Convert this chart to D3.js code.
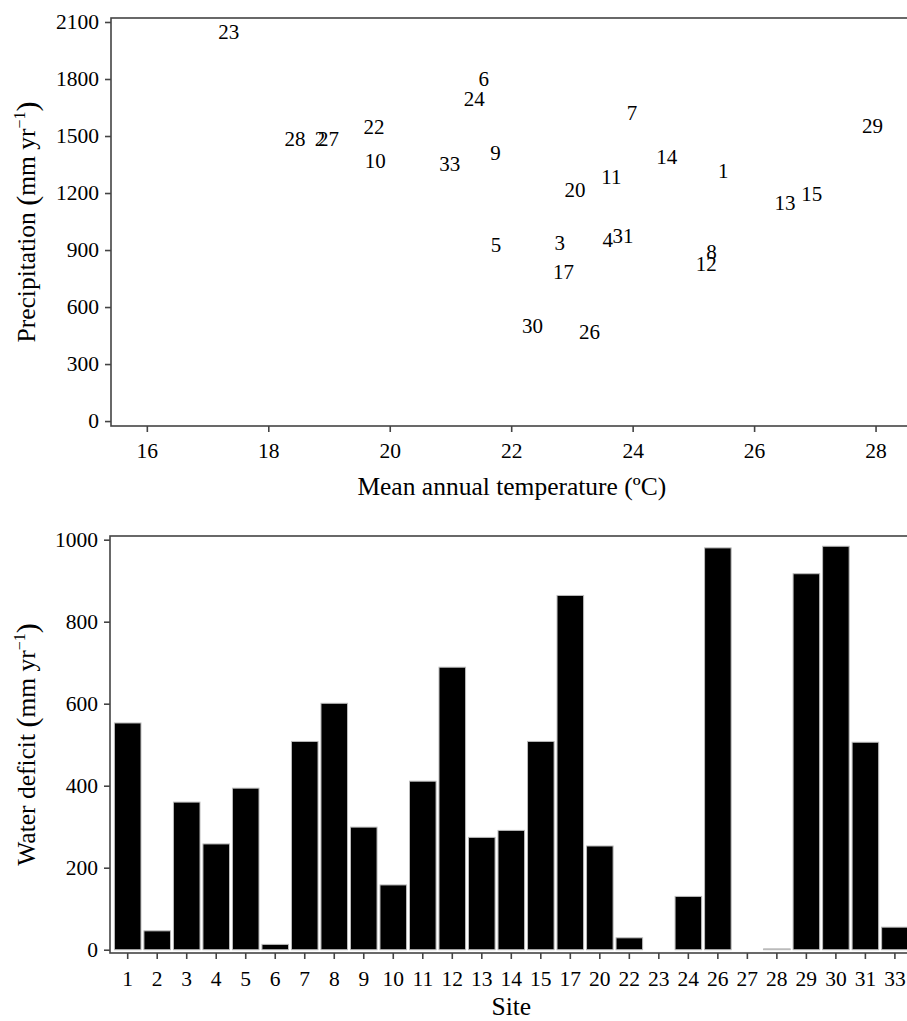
<!DOCTYPE html>
<html>
<head>
<meta charset="utf-8">
<script src="https://d3js.org/d3.v7.min.js"></script>
<style>
    body { margin: 0; background: #fff; }
    svg text { font-family: "Liberation Serif", "DejaVu Serif", serif; fill: #000; }
    .axis-title { font-size: 25.5px; }
    .site-label { font-size: 21px; }
</style>
</head>
<body>
<svg id="fig" width="907" height="1021"></svg>
<script>
    // site ids, same order in both panels
    const sites = ["1", "2", "3", "4", "5", "6", "7", "8", "9", "10", "11", "12", "13", "14", "15",
        "17", "20", "22", "23", "24", "26", "27", "28", "29", "30", "31", "33"];
    // mean annual temperature (degC)
    const temperature = [25.49, 18.85, 22.80, 23.59, 21.75, 21.55, 23.99, 25.30, 21.74, 19.76, 23.65, 25.21, 26.51, 24.56, 26.95,
        22.86, 23.05, 19.74, 17.35, 21.39, 23.29, 18.99, 18.44, 27.95, 22.35, 23.84, 20.99];
    // precipitation (mm/yr)
    const precipitation = [1317, 1483, 940, 956, 926, 1800, 1623, 889, 1409, 1370, 1284, 826, 1149, 1388, 1196,
        783, 1219, 1547, 2049, 1696, 472, 1483, 1483, 1556, 502, 972, 1356];
    // water deficit (mm/yr)
    const waterDeficit = [553, 46, 360, 258, 394, 13, 508, 601, 299, 158, 411, 689, 274, 291, 508,
        864, 253, 29, 0, 130, 980, 0, 2, 917, 984, 506, 55];

    const tempTicks = [16, 18, 20, 22, 24, 26, 28];
    const precipTicks = [0, 300, 600, 900, 1200, 1500, 1800, 2100];
    const deficitTicks = [0, 200, 400, 600, 800, 1000];

    const axisColor = "#444";
    const fontStack = "'Liberation Serif', 'DejaVu Serif', serif";
    const svg = d3.select("#fig");

    // panel boxes (right edge runs past the picture, as in the original crop)
    const panelA = { left: 111, right: 912.6, top: 18, bottom: 426 };
    const panelB = { left: 110, right: 912.6, top: 536, bottom: 953 };

    function styleAxis(g) {
        g.attr("font-family", fontStack).attr("font-size", 21.5);
        g.select(".domain").remove();
        g.selectAll(".tick line").attr("stroke", axisColor).attr("stroke-width", 1.6);
        g.selectAll(".tick text").attr("fill", "#000");
    }

    function yTitle(cx, cy, main) {
        const t = svg.append("text")
            .attr("class", "axis-title")
            .attr("font-family", fontStack)
            .attr("transform", `translate(${cx},${cy}) rotate(-90)`)
            .attr("text-anchor", "middle");
        t.append("tspan").text(main + " ");
        t.append("tspan").attr("font-size", "30px").attr("dy", "2").text("(");
        t.append("tspan").attr("dy", "-2").text("mm yr");
        t.append("tspan").attr("font-size", "16px").attr("dy", "-10").text("\u22121");
        t.append("tspan").attr("font-size", "30px").attr("dy", "12").text(")");
    }

    // ---------- scatter: temperature vs precipitation ----------
    const x = d3.scaleLinear().domain([15.41, 28.61]).range([panelA.left, panelA.right]);
    const y = d3.scaleLinear().domain([-26, 2121]).range([panelA.bottom, panelA.top]);

    svg.append("rect")
        .attr("x", panelA.left).attr("y", panelA.top)
        .attr("width", panelA.right - panelA.left).attr("height", panelA.bottom - panelA.top)
        .attr("fill", "none").attr("stroke", axisColor).attr("stroke-width", 1.6);

    svg.append("g")
        .attr("transform", `translate(0,${panelA.bottom})`)
        .call(d3.axisBottom(x).tickValues(tempTicks).tickFormat(d3.format("d")).tickSize(6).tickPadding(11))
        .call(styleAxis);
    svg.append("g")
        .attr("transform", `translate(${panelA.left},0)`)
        .call(d3.axisLeft(y).tickValues(precipTicks).tickFormat(d3.format("d")).tickSize(6).tickPadding(6))
        .call(styleAxis);

    svg.append("g").selectAll("text")
        .data(sites)
        .join("text")
        .attr("class", "site-label")
        .attr("font-family", fontStack)
        .attr("x", (d, i) => x(temperature[i]))
        .attr("y", (d, i) => y(precipitation[i]))
        .attr("dy", "0.34em")
        .attr("text-anchor", "middle")
        .text(d => d);

    svg.append("text")
        .attr("class", "axis-title")
        .attr("font-family", fontStack)
        .attr("x", (panelA.left + panelA.right) / 2)
        .attr("y", 495)
        .attr("text-anchor", "middle")
        .text("Mean annual temperature (\u00baC)");
    yTitle(35, (panelA.top + panelA.bottom) / 2, "Precipitation");

    // ---------- bars: water deficit per site ----------
    const xb = d3.scaleBand().domain(sites).range([panelB.left, panelB.right])
        .paddingInner(0.1).paddingOuter(0.15);
    const yb = d3.scaleLinear().domain([-8, 1009]).range([panelB.bottom, panelB.top]);

    svg.append("rect")
        .attr("x", panelB.left).attr("y", panelB.top)
        .attr("width", panelB.right - panelB.left).attr("height", panelB.bottom - panelB.top)
        .attr("fill", "none").attr("stroke", axisColor).attr("stroke-width", 1.6);

    svg.append("g").selectAll("rect")
        .data(sites)
        .join("rect")
        .attr("x", d => xb(d))
        .attr("width", xb.bandwidth())
        .attr("y", (d, i) => yb(waterDeficit[i]))
        .attr("height", (d, i) => yb(0) - yb(waterDeficit[i]))
        .attr("fill", "#000")
        .attr("stroke", "#bbb")
        .attr("stroke-width", 1);

    svg.append("g")
        .attr("transform", `translate(0,${panelB.bottom})`)
        .call(d3.axisBottom(xb).tickSize(6).tickPadding(12))
        .call(styleAxis);
    svg.append("g")
        .attr("transform", `translate(${panelB.left},0)`)
        .call(d3.axisLeft(yb).tickValues(deficitTicks).tickFormat(d3.format("d")).tickSize(6).tickPadding(6))
        .call(styleAxis);

    svg.append("text")
        .attr("class", "axis-title")
        .attr("font-family", fontStack)
        .attr("x", (panelB.left + panelB.right) / 2)
        .attr("y", 1015)
        .attr("text-anchor", "middle")
        .text("Site");
    yTitle(35, (panelB.top + panelB.bottom) / 2, "Water deficit");
</script>
</body>
</html>
